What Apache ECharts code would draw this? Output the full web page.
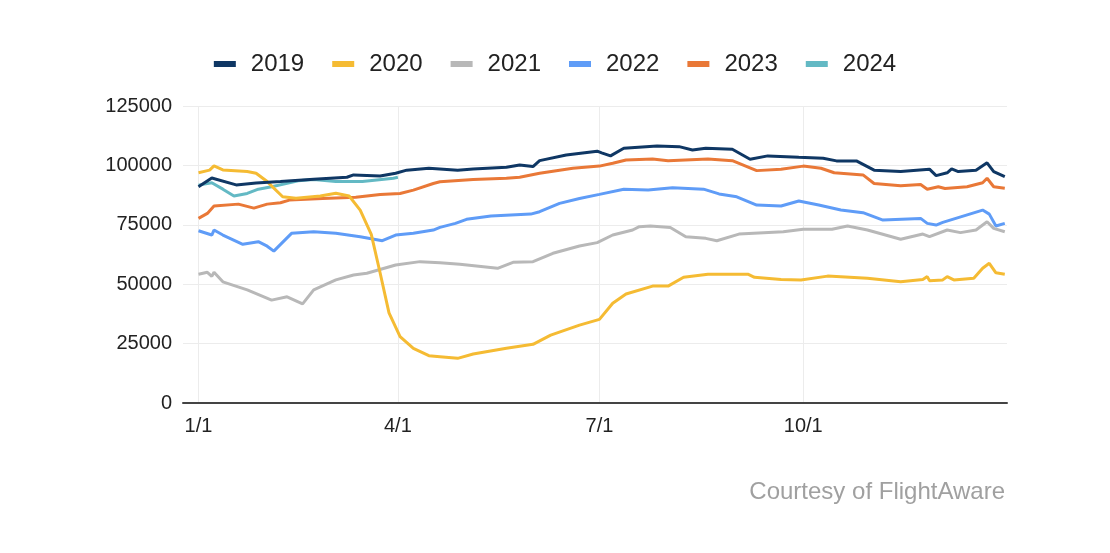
<!DOCTYPE html>
<html>
<head>
<meta charset="utf-8">
<script src="https://cdn.jsdelivr.net/npm/echarts@6/dist/echarts.min.js"></script>
<style>
html,body{margin:0;padding:0;background:#fff;}
#c{width:1110px;height:553px;}
</style>
</head>
<body>
<div id="c"></div>
<script>
// Day-of-year index (0 = Jan 1) paired with daily flight counts
const seriesNames = ['2019','2020','2021','2022','2023','2024'];
const tickDays = [0, 90, 181, 273];
const tickLabels = ['1/1','4/1','7/1','10/1'];

const d2019 = [[0,91000],[6,94700],[17,91800],[26,92600],[37,93200],[52,94200],[67,95000],[70,96000],[82,95500],[89,96700],[94,98000],[104,98800],[117,98000],[124,98500],[139,99200],[145,100200],[151,99500],[154,102000],[166,104400],[180,106000],[182,105300],[186,104000],[192,107200],[207,108200],[217,107900],[223,106500],[229,107200],[241,106800],[249,102600],[257,104000],[271,103400],[282,103000],[288,101900],[297,101900],[305,98000],[317,97400],[330,98400],[333,95700],[338,96900],[340,98500],[343,97400],[351,98000],[356,101100],[359,97400],[364,95300]];
const d2020 = [[0,96900],[5,98000],[7,99800],[11,98100],[22,97400],[26,96700],[31,93200],[38,86800],[44,86200],[55,87100],[62,88300],[68,87100],[73,81200],[78,71000],[82,54700],[86,37900],[91,27900],[97,23000],[104,19900],[109,19500],[117,18800],[124,20600],[139,23000],[151,24700],[159,28600],[172,32800],[181,35200],[187,42000],[193,45900],[205,49200],[212,49200],[219,52900],[230,54200],[248,54200],[251,52900],[263,52000],[272,51800],[284,53400],[302,52500],[317,51000],[327,52000],[329,53200],[330,51500],[336,51800],[338,53200],[341,51800],[350,52500],[354,56700],[357,58800],[360,54800],[364,54200]];
const d2021 = [[0,54200],[4,55000],[6,53300],[7,55000],[11,51000],[22,47600],[33,43300],[40,44700],[47,41700],[52,47600],[62,51800],[70,53900],[76,54600],[89,58100],[100,59500],[109,59000],[118,58400],[135,56700],[142,59200],[151,59500],[160,63000],[172,66100],[180,67500],[187,70700],[196,72800],[199,74200],[204,74500],[213,73900],[220,70000],[229,69300],[234,68300],[244,71100],[264,72100],[273,73100],[286,73100],[293,74500],[302,72800],[317,68900],[327,71100],[330,70000],[338,72800],[344,71700],[351,72800],[356,76300],[359,73500],[364,72100]];
const d2022 = [[0,72500],[6,70700],[7,72800],[11,70700],[20,66800],[27,67900],[31,66000],[34,63900],[42,71400],[52,72100],[62,71400],[73,70000],[83,68300],[89,70700],[97,71400],[106,72800],[109,73900],[116,75600],[121,77300],[132,78700],[150,79500],[154,80500],[163,84000],[172,86100],[181,87800],[192,90000],[203,89600],[214,90600],[228,90000],[235,88000],[243,86800],[252,83300],[263,82900],[271,85000],[280,83300],[290,81200],[300,80100],[309,77000],[326,77700],[329,75600],[333,74900],[336,76000],[354,81200],[357,79500],[360,74500],[364,75600]];
const d2023 = [[0,77700],[4,79800],[7,82900],[18,83700],[25,82000],[31,83700],[37,84300],[41,85400],[56,86100],[71,86600],[82,87800],[91,88200],[97,89600],[106,92400],[109,93100],[124,94100],[139,94600],[145,95000],[154,96700],[169,98800],[181,99700],[187,100900],[193,102300],[205,102700],[212,102000],[230,102700],[241,102000],[252,97800],[263,98400],[273,99700],[281,98800],[287,96900],[300,96000],[305,92400],[317,91400],[326,92000],[329,90000],[334,91000],[337,90300],[347,91000],[354,92700],[356,94600],[359,91000],[364,90400]];
const d2024 = [[0,91700],[6,92700],[11,90000],[16,87100],[22,88200],[27,90000],[33,91000],[45,93500],[52,94100],[62,93200],[74,93200],[88,94600],[90,95000]];

const colors = ['#0f3764','#f5bb33','#b8b8b8','#5f9cf7','#e97837','#63b9c4'];
const allData = [d2019,d2020,d2021,d2022,d2023,d2024];
const FONT = "Arial, 'Liberation Sans', sans-serif";

const chart = echarts.init(document.getElementById('c'));
chart.setOption({
  animation: false,
  color: colors,
  textStyle: {fontFamily: FONT},
  legend: {
    top: 47, left: 'center',
    icon: 'rect', itemWidth: 22, itemHeight: 6, itemGap: 28,
    textStyle: {fontSize: 24, color: '#222', fontFamily: FONT, padding: [0,0,0,10]},
    data: seriesNames
  },
  grid: {left: 183, right: 103, top: 106, bottom: 150, containLabel: false},
  xAxis: {
    type: 'value', min: -7, max: 365,
    axisLine: {onZero: true, lineStyle: {color: '#444', width: 2}},
    axisTick: {show: false, customValues: tickDays},
    axisLabel: {
      customValues: tickDays,
      formatter: v => tickLabels[tickDays.indexOf(v)] || '',
      color: '#222', fontSize: 20, margin: 13, fontFamily: FONT
    },
    splitLine: {show: true, lineStyle: {color: '#ececec'}}
  },
  yAxis: {
    type: 'value', min: 0, max: 125000, interval: 25000,
    axisLine: {show: false}, axisTick: {show: false},
    axisLabel: {color: '#222', fontSize: 20, margin: 11, fontFamily: FONT, formatter: v => String(v)},
    splitLine: {lineStyle: {color: '#ececec'}}
  },
  graphic: [{
    type: 'text', right: 105, top: 480,
    style: {text: 'Courtesy of FlightAware', fill: '#a0a0a0', fontSize: 24, fontFamily: FONT}
  }],
  series: seriesNames.map((n, i) => ({
    name: n, type: 'line', data: allData[i], showSymbol: false, symbol: 'none',
    lineStyle: {width: 3, color: colors[i]}, itemStyle: {color: colors[i]},
    z: 10 - i
  }))
});
</script>
</body>
</html>
